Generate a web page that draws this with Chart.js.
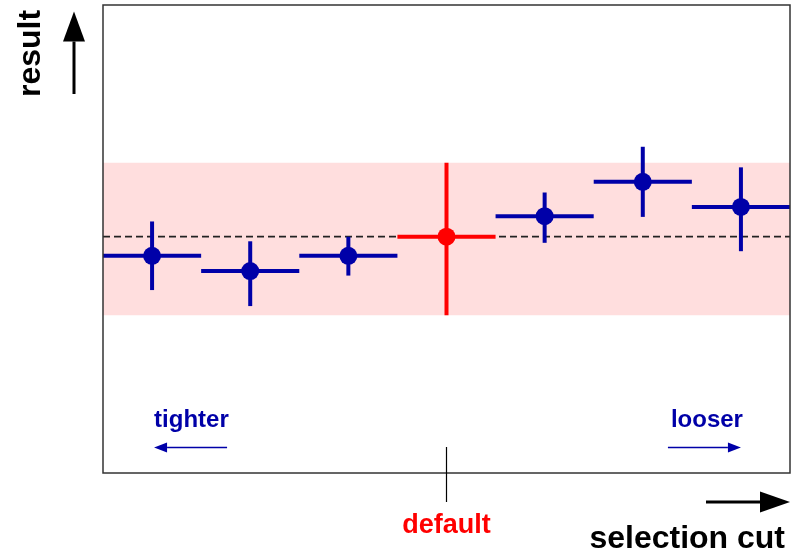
<!DOCTYPE html>
<html>
<head>
<meta charset="utf-8">
<script src="https://cdn.jsdelivr.net/npm/chart.js@4/dist/chart.umd.min.js"></script>
<style>
  html, body { margin: 0; padding: 0; background: #fff; }
  canvas { display: block; }
</style>
</head>
<body>
<canvas id="chart" width="797" height="554"></canvas>
<script>
// selection-cut variations, bin index (0 = tightest)
const cutBins = [0, 1, 2, 3, 4, 5, 6];
const results = [-0.25, -0.45, -0.25, 0, 0.27, 0.72, 0.39];
const errUp = [0.45, 0.39, 0.25, 0.97, 0.31, 0.46, 0.52];
const errDown = [0.45, 0.46, 0.26, 1.03, 0.35, 0.46, 0.58];
const binHalfWidth = 0.5;
const defaultBin = 3;
const bandHigh = 0.97;
const bandLow = -1.03;
const nominal = 0;

const BLUE = "#0000a8";
const RED = "#ff0000";

const xMin = cutBins[0] - binHalfWidth;
const xMax = cutBins[cutBins.length - 1] + binHalfWidth;

function arrow(ctx, x1, y1, x2, y2, width, headLen, headHalf, color) {
    const ang = Math.atan2(y2 - y1, x2 - x1);
    const bx = x2 - Math.cos(ang) * headLen;
    const by = y2 - Math.sin(ang) * headLen;
    ctx.strokeStyle = color;
    ctx.fillStyle = color;
    ctx.lineWidth = width;
    ctx.beginPath();
    ctx.moveTo(x1, y1);
    ctx.lineTo(bx, by);
    ctx.stroke();
    ctx.beginPath();
    ctx.moveTo(x2, y2);
    ctx.lineTo(bx - Math.sin(ang) * headHalf, by + Math.cos(ang) * headHalf);
    ctx.lineTo(bx + Math.sin(ang) * headHalf, by - Math.cos(ang) * headHalf);
    ctx.closePath();
    ctx.fill();
}

const errorBars = {
    id: "errorBars",
    beforeDatasetDraw(chart, args) {
        if (args.index !== 3) return;
        const ctx = chart.ctx;
        const xs = chart.scales.x, ys = chart.scales.y;
        ctx.save();
        ctx.lineWidth = 4;
        ctx.lineCap = "butt";
        cutBins.forEach((b, i) => {
            ctx.strokeStyle = b === defaultBin ? RED : BLUE;
            const y = ys.getPixelForValue(results[i]);
            ctx.beginPath();
            ctx.moveTo(xs.getPixelForValue(b - binHalfWidth), y);
            ctx.lineTo(xs.getPixelForValue(b + binHalfWidth), y);
            ctx.stroke();
            const x = xs.getPixelForValue(b);
            ctx.beginPath();
            ctx.moveTo(x, ys.getPixelForValue(results[i] + errUp[i]));
            ctx.lineTo(x, ys.getPixelForValue(results[i] - errDown[i]));
            ctx.stroke();
        });
        ctx.restore();
    }
};

const decorations = {
    id: "decorations",
    afterDraw(chart) {
        const ctx = chart.ctx;
        const a = chart.chartArea;
        const xs = chart.scales.x;
        ctx.save();

        // frame
        ctx.strokeStyle = "#333";
        ctx.lineWidth = 1.5;
        ctx.strokeRect(a.left, a.top, a.right - a.left, a.bottom - a.top);

        // default tick
        const xd = xs.getPixelForValue(defaultBin);
        ctx.strokeStyle = "#000";
        ctx.lineWidth = 1.2;
        ctx.beginPath();
        ctx.moveTo(xd, a.bottom - 26);
        ctx.lineTo(xd, a.bottom + 29);
        ctx.stroke();

        ctx.textBaseline = "alphabetic";
        ctx.fillStyle = RED;
        ctx.font = "bold 27px 'Liberation Sans', Arial, sans-serif";
        ctx.textAlign = "center";
        ctx.fillText("default", xd, 533);

        // tighter / looser
        const x0 = xs.getPixelForValue(cutBins[0]);
        const x6 = xs.getPixelForValue(cutBins[cutBins.length - 1]);
        ctx.fillStyle = BLUE;
        ctx.font = "bold 24px 'Liberation Sans', Arial, sans-serif";
        ctx.textAlign = "left";
        ctx.fillText("tighter", x0 + 2, 427);
        ctx.textAlign = "right";
        ctx.fillText("looser", x6 + 2, 427);
        arrow(ctx, x0 + 75, 447.5, x0 + 2, 447.5, 1.5, 13, 5, BLUE);
        arrow(ctx, x6 - 73, 447.5, x6, 447.5, 1.5, 13, 5, BLUE);

        // x title + arrow
        ctx.fillStyle = "#000";
        ctx.font = "bold 32px 'Liberation Sans', Arial, sans-serif";
        ctx.textAlign = "right";
        ctx.fillText("selection cut", 785, 548);
        arrow(ctx, 706, 502, 790, 502, 3, 30, 10.5, "#000");

        // y title + arrow
        ctx.save();
        ctx.translate(40, 97);
        ctx.rotate(-Math.PI / 2);
        ctx.textAlign = "left";
        ctx.fillText("result", 0, 0);
        ctx.restore();
        arrow(ctx, 74, 94, 74, 11.5, 3, 30, 11, "#000");

        ctx.restore();
    }
};

new Chart(document.getElementById("chart").getContext("2d"), {
    type: "scatter",
    data: {
        datasets: [
            {
                type: "line",
                data: [{ x: xMin, y: bandHigh }, { x: xMax, y: bandHigh }],
                borderWidth: 0,
                pointRadius: 0,
                backgroundColor: "#ffdede",
                fill: "+1",
                order: 3
            },
            {
                type: "line",
                data: [{ x: xMin, y: bandLow }, { x: xMax, y: bandLow }],
                borderWidth: 0,
                pointRadius: 0,
                fill: false,
                order: 2
            },
            {
                type: "line",
                data: [{ x: xMin, y: nominal }, { x: xMax, y: nominal }],
                borderColor: "#222",
                borderWidth: 1.7,
                borderDash: [7, 4],
                pointRadius: 0,
                fill: false,
                order: 1
            },
            {
                data: cutBins.map((b, i) => ({ x: b, y: results[i] })),
                pointRadius: 9,
                pointBorderWidth: 0,
                pointBackgroundColor: cutBins.map(b => b === defaultBin ? RED : BLUE),
                order: 0
            }
        ]
    },
    options: {
        responsive: false,
        animation: false,
        devicePixelRatio: 1,
        layout: { autoPadding: false, padding: { left: 103, top: 5, right: 7, bottom: 81 } },
        plugins: { legend: { display: false }, tooltip: { enabled: false } },
        scales: {
            x: { type: "linear", min: xMin, max: xMax, display: false },
            y: { type: "linear", min: -3.10, max: 3.04, display: false }
        }
    },
    plugins: [errorBars, decorations]
});
</script>
</body>
</html>
